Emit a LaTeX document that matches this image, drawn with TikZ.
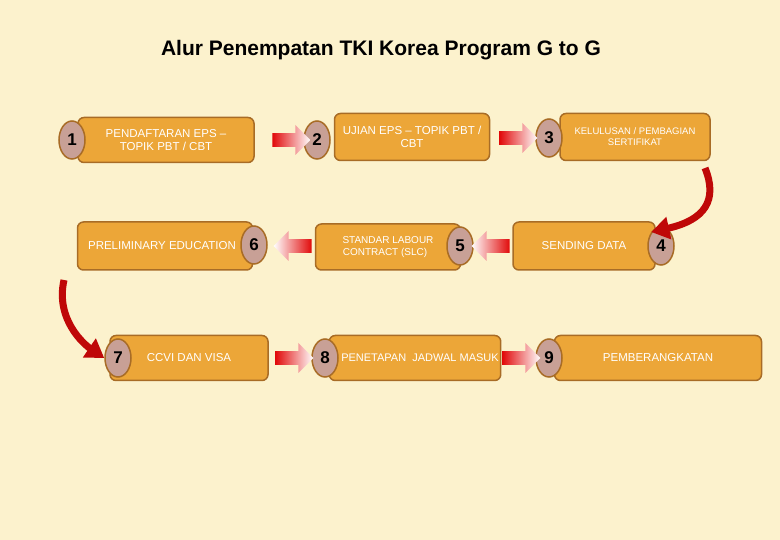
\documentclass[tikz,border=0pt]{standalone}
\usepackage{fontspec}
\setmainfont{Liberation Sans}
\usetikzlibrary{shapes.geometric,shapes.arrows,arrows.meta}
\definecolor{bgc}{RGB}{252,242,205}
\definecolor{boxc}{RGB}{236,166,56}
\definecolor{boxd}{RGB}{168,108,38}
\definecolor{badc}{RGB}{200,160,150}
\definecolor{arrc}{RGB}{225,10,10}
\tikzset{
 stepbox/.style={draw=boxd,line width=1.5pt,fill=boxc,rounded corners=6pt,inner sep=2pt,
   text=white,font=\fontsize{11.5}{13}\selectfont,align=center},
 badge/.style={ellipse,draw=boxd,line width=1.5pt,fill=badc,minimum width=26pt,minimum height=38pt,
   inner sep=0pt,font=\fontsize{17}{17}\selectfont\bfseries},
 rarr/.style={single arrow,draw=none,minimum height=38pt,minimum width=30pt,single arrow head extend=5pt,
   left color=arrc,middle color=arrc!80!white,right color=white,inner sep=4pt},
 larr/.style={single arrow,shape border rotate=180,draw=none,minimum height=38pt,minimum width=30pt,
   single arrow head extend=5pt,left color=white,middle color=arrc!80!white,right color=arrc,inner sep=4pt},
 curv/.style={draw=arrc!85!black,line width=7pt,-{Triangle[width=22pt,length=18pt]}}
}
\begin{document}
\begin{tikzpicture}[x=1pt,y=-1pt]
\fill[bgc] (0,0) rectangle (780,540);
\useasboundingbox (0,0) rectangle (780,540);
\node[font=\fontsize{21}{24}\selectfont\bfseries] (title) at (381,50) {Alur Penempatan TKI Korea Program G to G};
% row 1
\node[stepbox,minimum width=176pt,minimum height=45pt] (b1) at (166,140) {PENDAFTARAN EPS –\\TOPIK PBT / CBT};
\node[badge] (n1) at (72,140) {1};
\node[stepbox,minimum width=155pt,minimum height=47pt] (b2) at (412,137) {UJIAN EPS – TOPIK PBT /\\CBT};
\node[badge] (n2) at (317,140) {2};
\node[stepbox,minimum width=150pt,minimum height=47pt,font=\fontsize{9.5}{11}\selectfont] (b3) at (635,137) {KELULUSAN / PEMBAGIAN\\SERTIFIKAT};
\node[badge] (n3) at (549,138) {3};
% row 2
\node[stepbox,minimum width=175pt,minimum height=48pt] (b6) at (165,246) {PRELIMINARY EDUCATION\hspace*{6pt}};
\node[badge] (n6) at (254,245) {6};
\node[stepbox,minimum width=145pt,minimum height=46pt,font=\fontsize{10}{12}\selectfont] (b5) at (388,247) {STANDAR LABOUR\\CONTRACT (SLC)\hspace*{6pt}};
\node[badge] (n5) at (460,246) {5};
\node[stepbox,minimum width=142pt,minimum height=48pt] (b4) at (584,246) {SENDING DATA};
\node[badge] (n4) at (661,246) {4};
% row 3
\node[stepbox,minimum width=158pt,minimum height=45pt] (b7) at (189,358) {CCVI DAN VISA};
\node[badge] (n7) at (118,358) {7};
\node[stepbox,minimum width=170pt,minimum height=45pt,font=\fontsize{11}{13}\selectfont] (b8) at (415,358) {\hspace*{10pt}PENETAPAN\ \ JADWAL MASUK};
\node[badge] (n8) at (325,358) {8};
\node[stepbox,minimum width=207pt,minimum height=45pt] (b9) at (658,358) {PEMBERANGKATAN};
\node[badge] (n9) at (549,358) {9};
% arrows
\node[rarr] (a12) at (288,140) {};
\node[rarr] (a23) at (515,138) {};
\node[larr] (a54) at (494,246) {};
\node[larr] (a65) at (296,246) {};
\node[rarr] (a78) at (291,358) {};
\node[rarr] (a89) at (518,358) {};
\coordinate (c34s) at (705,168);
\coordinate (c67s) at (64,280);
\draw[curv] (c34s) .. controls (718,200) and (705,220) .. (n4.north west);
\draw[curv] (c67s) .. controls (55,320) and (85,345) .. (n7.west);
\end{tikzpicture}
\end{document}
